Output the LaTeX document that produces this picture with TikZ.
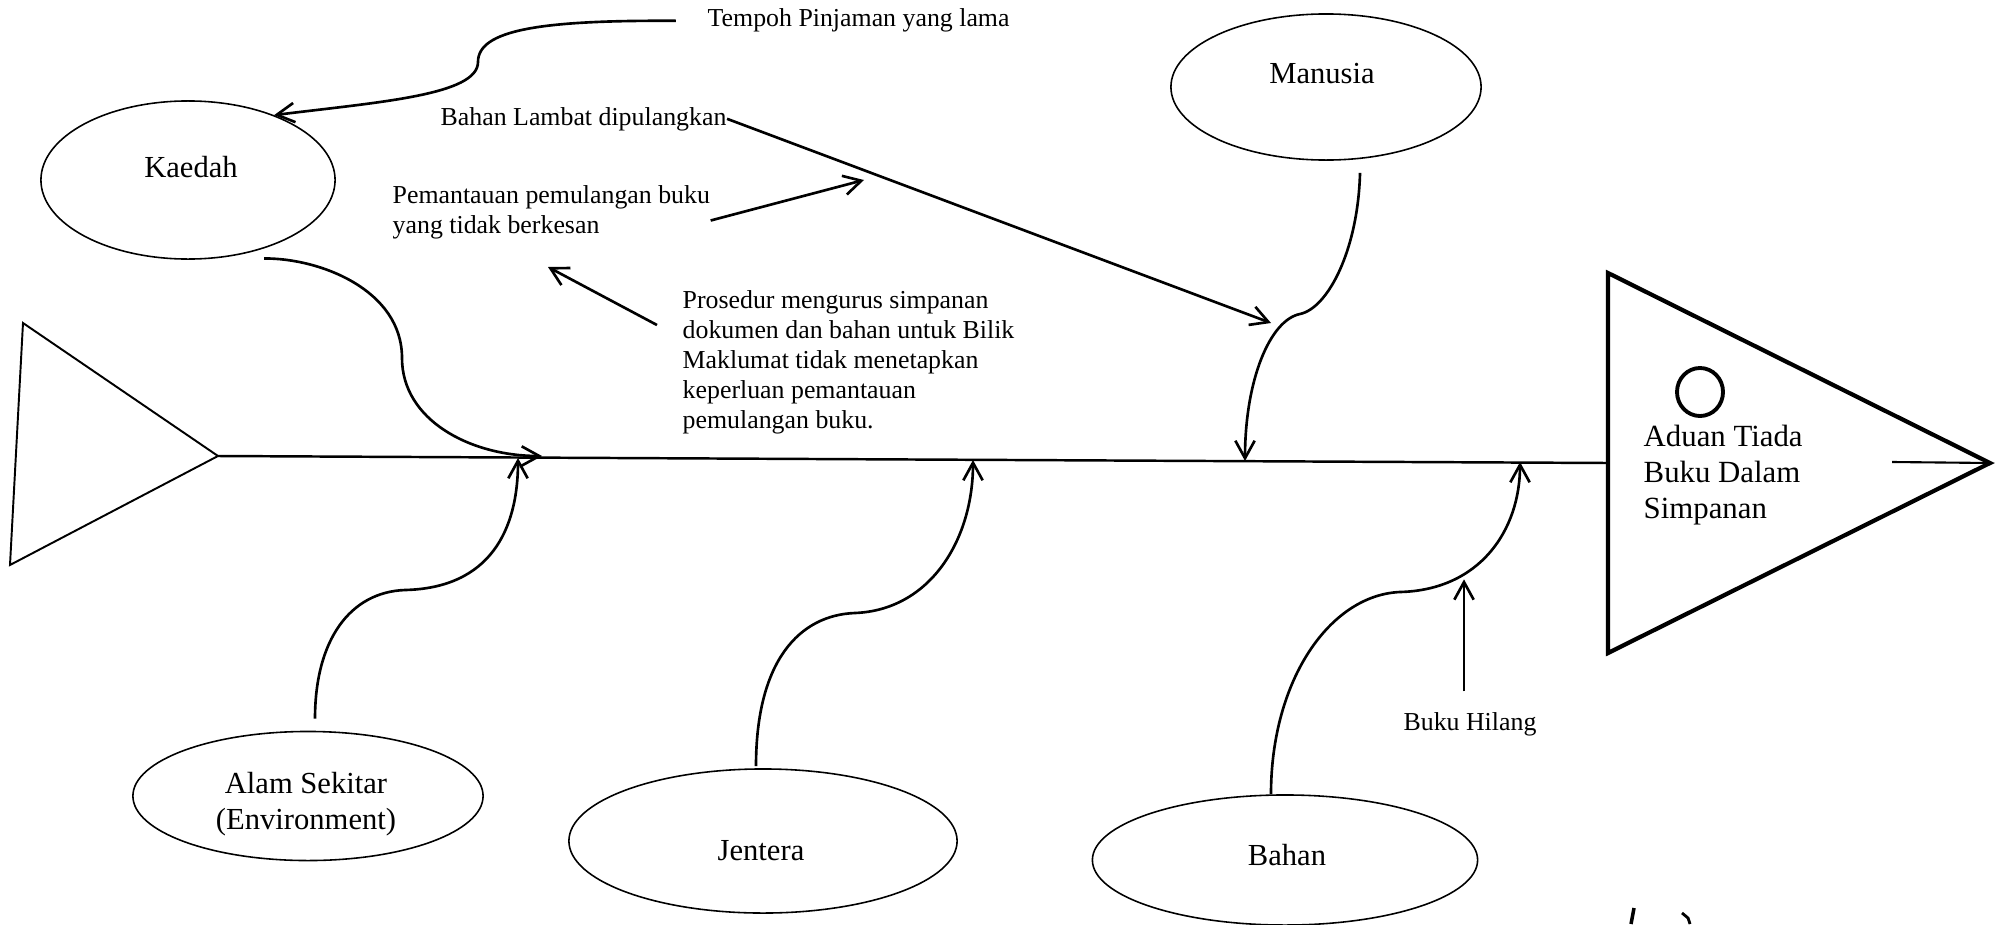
\documentclass[tikz,border=0pt]{standalone}
\usepackage{fontspec}
\setmainfont{Liberation Serif}
\usetikzlibrary{shapes.geometric,arrows.meta}

\begin{document}
\begin{tikzpicture}[x=0.01cm, y=-0.01cm,
    cause/.style={ellipse, draw, line width=0.45pt, inner sep=0pt},
    causetext/.style={inner sep=0pt, anchor=base, font=\fontsize{8.7}{10}\selectfont},
    note/.style={inner sep=0pt, font=\fontsize{7.35}{8.55}\selectfont},
    arr/.style={-{Straight Barb[length=5pt,width=5.5pt]}, line width=0.75pt}]
    \useasboundingbox (0,0) rectangle (1997,924);

    % tail, spine and head
    \coordinate (tail) at (218,456);
    \coordinate (head) at (1608,463);
    \coordinate (tip) at (1990,463);
    \draw[line width=0.55pt] (23,323) -- (tail) -- (10,565) -- cycle;
    \draw[line width=0.7pt] (tail) -- (head);
    \draw[line width=1.2pt] (1608,273) -- (tip) -- (1608,653) -- cycle;
    \draw[line width=0.6pt] (1892,462) -- (tip);
    \node[ellipse, draw, line width=1.1pt, minimum width=0.46cm, minimum height=0.48cm, inner sep=0pt] (mark) at (1700,392) {};
    \node[causetext, anchor=north west, align=left, font=\fontsize{8.76}{10.24}\selectfont] (effect) at (1643,424) {Aduan Tiada\\Buku Dalam\\Simpanan};

    % causes
    \node[cause, minimum width=2.94cm, minimum height=1.58cm] (kaedah) at (188,180) {};
    \node[cause, minimum width=3.10cm, minimum height=1.46cm] (manusia) at (1326,87) {};
    \node[cause, minimum width=3.50cm, minimum height=1.29cm] (alam) at (308,796) {};
    \node[cause, minimum width=3.88cm, minimum height=1.44cm] (jentera) at (763,841) {};
    \node[cause, minimum width=3.85cm, minimum height=1.30cm] (bahan) at (1285,860) {};
    \node[causetext] (kaedah-t) at (191,177) {Kaedah};
    \node[causetext] (manusia-t) at (1322,83) {Manusia};
    \node[causetext, anchor=north, align=center] (alam-t) at (306,772) {Alam Sekitar\\(Environment)};
    \node[causetext] (jentera-t) at (761,860) {Jentera};
    \node[causetext] (bahan-t) at (1287,865) {Bahan};

    % sub-causes
    \node[note, anchor=base west] (tempoh) at (707,27) {Tempoh Pinjaman yang lama};
    \node[note, anchor=base west] (lambat) at (440,125) {Bahan Lambat dipulangkan};
    \node[note, anchor=north west, align=left] (pantau) at (392,185) {Pemantauan pemulangan buku\\yang tidak berkesan};
    \node[note, anchor=north west, align=left] (prosedur) at (682,290) {Prosedur mengurus simpanan\\dokumen dan bahan untuk Bilik\\Maklumat tidak menetapkan\\keperluan pemantauan\\pemulangan buku.};
    \node[note, anchor=base] (hilang) at (1470,730) {Buku Hilang};

    % points on the spine
    \coordinate (s1) at (542,456);
    \coordinate (s2) at (518,458);
    \coordinate (s3) at (973,460);
    \coordinate (s4) at (1245,461);
    \coordinate (s5) at (1520,462);
    \coordinate (knee) at (1271,323);
    \coordinate (p1) at (864,180);
    \coordinate (p2) at (548,267);

    \draw[arr] ([xshift=-0.31cm]tempoh.west) .. controls (540,20) and (478,30) .. (478,62)
        .. controls (478,95) and (380,102) .. (kaedah.37);
    \draw[arr] ([yshift=-0.1cm]kaedah.-42) .. controls (320,258) and (402,290) .. (402,358)
        .. controls (402,420) and (470,456) .. (s1);
    \draw[arr] ([shift={(0.34cm,-0.12cm)}]manusia.south) .. controls (1358,250) and (1328,308) .. (1300,314)
        .. controls (1270,320) and (1245,380) .. (s4);
    \draw[arr] ([shift={(0.07cm,0.12cm)}]alam.north) .. controls (315,640) and (350,592) .. (405,590)
        .. controls (490,588) and (518,530) .. (s2);
    \draw[arr] ([shift={(-0.07cm,0.02cm)}]jentera.north) .. controls (756,660) and (800,615) .. (855,613)
        .. controls (930,610) and (973,540) .. (s3);
    \draw[arr] ([xshift=-0.14cm]bahan.north) .. controls (1271,680) and (1330,595) .. (1400,592)
        .. controls (1480,590) and (1520,530) .. (s5);

    \draw[arr] (lambat.east) -- (knee);
    \draw[arr] ([yshift=-0.08cm]pantau.east) -- (p1);
    \draw[arr] ([shift={(-0.25cm,-0.35cm)}]prosedur.north west) -- (p2);
    \draw[arr] ([shift={(-0.06cm,0.2cm)}]hilang.north) -- ++(0,-112);

    % pen marks
    \draw[line width=1pt] (1634,908) -- (1631,924);
    \draw[line width=0.8pt] (1682,913) -- (1688,918) -- (1690,924);
\end{tikzpicture}
\end{document}
